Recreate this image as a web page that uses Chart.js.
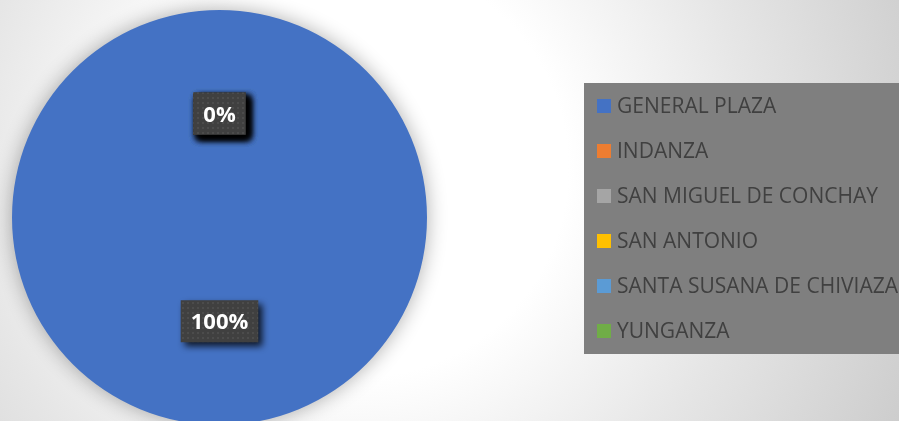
<!DOCTYPE html>
<html>
<head>
<meta charset="utf-8">
<script src="https://cdn.jsdelivr.net/npm/chart.js@4.4.1/dist/chart.umd.min.js"></script>
<style>
    html, body {
        margin: 0;
        padding: 0;
        overflow: hidden;
        width: 899px;
        height: 421px;
        background: radial-gradient(circle at 40% 40%, #ffffff 0%, #ffffff 35%, #e6e6e6 66%, #cdcdcd 100%);
    }
    #wrap {
        position: relative;
        width: 899px;
        height: 430px;
    }
</style>
</head>
<body>
<div id="wrap"><canvas id="pieChart"></canvas></div>
<script>
const parroquias = ['GENERAL PLAZA', 'INDANZA', 'SAN MIGUEL DE CONCHAY', 'SAN ANTONIO', 'SANTA SUSANA DE CHIVIAZA', 'YUNGANZA'];
const encuestas = [100, 0, 0, 0, 0, 0];
const colores = ['#4472C4', '#ED7D31', '#A5A5A5', '#FFC000', '#5B9BD5', '#70AD47'];

// dotted dark fill for the value boxes
function makeDotPattern(ctx) {
    const tile = document.createElement('canvas');
    tile.width = 5;
    tile.height = 5;
    const t = tile.getContext('2d');
    t.fillStyle = '#404040';
    t.fillRect(0, 0, 5, 5);
    t.fillStyle = '#4c4c4c';
    t.fillRect(2, 2, 2, 2);
    return ctx.createPattern(tile, 'repeat');
}

const pieShadow = {
    id: 'pieShadow',
    beforeDatasetDraw(chart) {
        const ctx = chart.ctx;
        ctx.save();
        ctx.shadowColor = 'rgba(0,0,0,0.32)';
        ctx.shadowBlur = 20;
        ctx.shadowOffsetX = 0;
        ctx.shadowOffsetY = 0;
    },
    afterDatasetDraw(chart) {
        chart.ctx.restore();
    }
};

const sliceLabels = {
    id: 'sliceLabels',
    afterDatasetsDraw(chart) {
        const ctx = chart.ctx;
        const meta = chart.getDatasetMeta(0);
        const values = chart.data.datasets[0].data;
        const total = values.reduce((a, b) => a + b, 0);
        const pattern = makeDotPattern(ctx);

        ctx.save();
        ctx.font = 'bold 22px "Open Sans"';
        meta.data.forEach((arc, i) => {
            const pos = arc.tooltipPosition();
            const text = Math.round(values[i] / total * 100) + '%';
            const w = ctx.measureText(text).width + 20;
            const h = 42;
            const x = pos.x - w / 2;
            const y = pos.y - h / 2;

            ctx.save();
            ctx.shadowColor = 'rgba(0,0,0,0.8)';
            ctx.shadowBlur = 7;
            ctx.shadowOffsetX = 4;
            ctx.shadowOffsetY = 4;
            ctx.fillStyle = pattern;
            ctx.fillRect(x, y, w, h);
            ctx.restore();

            ctx.fillStyle = '#ffffff';
            ctx.textAlign = 'center';
            ctx.textBaseline = 'alphabetic';
            ctx.fillText(text, pos.x, pos.y + 8);
        });
        ctx.restore();
    }
};

const boxLegend = {
    id: 'boxLegend',
    afterDraw(chart) {
        const ctx = chart.ctx;
        const labels = chart.data.labels;
        const bg = chart.data.datasets[0].backgroundColor;

        ctx.save();
        ctx.fillStyle = '#7f7f7f';
        ctx.fillRect(584, 83, 320, 271);

        ctx.font = '21px "Open Sans"';
        ctx.textAlign = 'left';
        ctx.textBaseline = 'alphabetic';
        labels.forEach((name, i) => {
            const top = 99 + i * 45;
            ctx.fillStyle = bg[i];
            ctx.fillRect(597, top, 14, 14);
            ctx.fillStyle = '#404040';
            ctx.fillText(name, 617, top + 14);
        });
        ctx.restore();
    }
};

new Chart(document.getElementById('pieChart'), {
    type: 'pie',
    data: {
        labels: parroquias,
        datasets: [{
            data: encuestas,
            backgroundColor: colores,
            borderWidth: 0,
            offset: 0,
            hoverOffset: 0
        }]
    },
    options: {
        responsive: true,
        maintainAspectRatio: false,
        animation: false,
        events: [],
        layout: {
            padding: { left: 12, right: 472, top: 10, bottom: 5 }
        },
        plugins: {
            legend: { display: false },
            tooltip: { enabled: false }
        }
    },
    plugins: [pieShadow, sliceLabels, boxLegend]
});
</script>
</body>
</html>
